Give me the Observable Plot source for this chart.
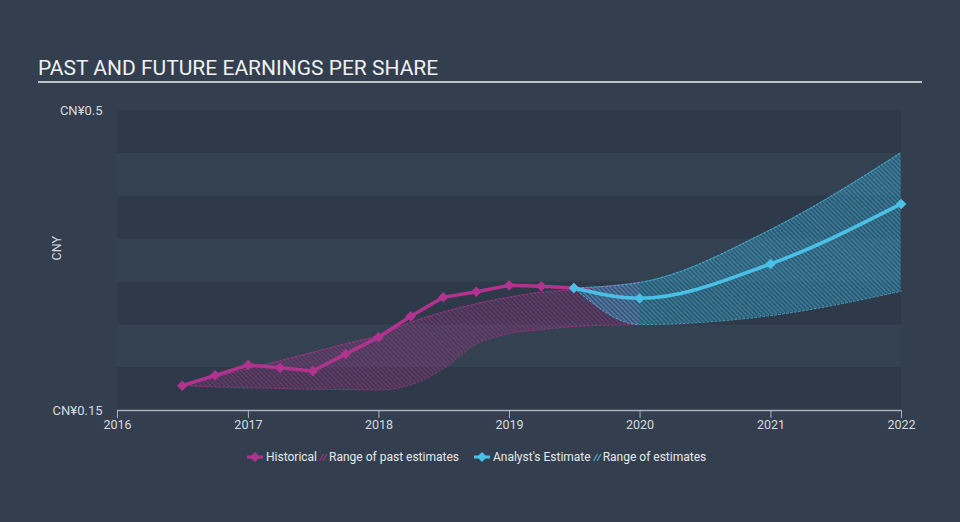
<!DOCTYPE html>
<html>
<head>
<meta charset="utf-8">
<script src="https://cdn.jsdelivr.net/npm/d3@7"></script>
<script src="https://cdn.jsdelivr.net/npm/@observablehq/plot@0.6"></script>
<style>
  html, body { margin: 0; padding: 0; }
  body { width: 960px; height: 522px; background: #333f4f; font-family: Roboto, "Noto Sans", sans-serif; position: relative; overflow: hidden; }
  #title { position: absolute; left: 38px; top: 57px; font-size: 21px; line-height: 22px; color: #eef0f2; white-space: nowrap; }
  #rule { position: absolute; left: 38px; top: 81px; width: 884px; height: 0; border-top: 2px solid #bfc3c8; }
  #chart { position: absolute; left: 0; top: 90px; }
  #legend { position: absolute; left: 246px; top: 449px; display: flex; align-items: center; font-size: 12px; color: #e6e8ea; white-space: nowrap; height: 16px; }
  #legend svg { display: block; }
  .item { display: flex; align-items: center; }
</style>
</head>
<body>
<div id="title">PAST AND FUTURE EARNINGS PER SHARE</div>
<div id="rule"></div>
<div id="chart"></div>
<div id="legend"></div>
<script>
// ---- data ----
const histDates = ["2016-06-30","2016-09-30","2016-12-31","2017-03-31","2017-06-30","2017-09-30","2017-12-31","2018-03-31","2018-06-30","2018-09-30","2018-12-31","2019-03-31","2019-06-30"];
const histEPS   = [0.179, 0.191, 0.203, 0.200, 0.196, 0.216, 0.2355, 0.260, 0.282, 0.2885, 0.296, 0.295, 0.293];

const pastRangeDates = ["2016-06-30","2016-09-30","2016-12-31","2017-03-31","2017-06-30","2017-09-30","2017-12-31","2018-03-31","2018-06-30","2018-09-30","2018-12-31","2019-03-31","2019-06-30","2019-12-31"];
const pastLow  = [0.179, 0.1775, 0.1765, 0.1757, 0.1749, 0.1745, 0.174, 0.180, 0.199, 0.2275, 0.2398, 0.2445, 0.248, 0.2503];
const pastHigh = [0.179, 0.189, 0.199, 0.208, 0.218, 0.228, 0.2375, 0.253, 0.2647, 0.2745, 0.2822, 0.288, 0.2908, 0.2995];

const estDates = ["2019-06-30","2019-12-31","2020-12-31","2021-12-31"];
const estEPS   = [0.293, 0.281, 0.321, 0.391];
const estLow   = [0.293, 0.2503, 0.2608, 0.2892];
const estHigh  = [0.293, 0.2993, 0.361, 0.451];

const yTicks = [0.15, 0.5];
const xTickYears = [2016, 2017, 2018, 2019, 2020, 2021, 2022];
const bandLows = [0.15, 0.20, 0.25, 0.30, 0.35, 0.40, 0.45];

// ---- tables ----
const parse = d3.utcParse("%Y-%m-%d");
const hist = histDates.map((d, i) => ({date: parse(d), v: histEPS[i]}));
const past = pastRangeDates.map((d, i) => ({date: parse(d), lo: pastLow[i], hi: pastHigh[i]}));
const est = estDates.map((d, i) => ({date: parse(d), v: estEPS[i], lo: estLow[i], hi: estHigh[i]}));
const xStart = new Date(Date.UTC(xTickYears[0], 0, 1));
const xEnd = new Date(Date.UTC(xTickYears[xTickYears.length - 1], 0, 1));
const bands = bandLows.map((b, i) => ({lo: b, hi: b + 0.05, dark: i % 2 === 0}));
const xTicks = xTickYears.map(y => new Date(Date.UTC(y, 0, 1)));

const PINK = "#b2338f";
const BLUE = "#4bc0e6";

const svg = Plot.plot({
  width: 960,
  height: 350,
  marginLeft: 117,
  marginRight: 59,
  marginTop: 20,
  marginBottom: 30,
  style: {background: "transparent", color: "#d6dade", fontFamily: "Roboto, sans-serif", fontSize: "12.5px"},
  x: {type: "utc", domain: [xStart, xEnd]},
  y: {domain: [0.15, 0.5]},
  marks: [
    Plot.rect(bands, {x1: () => xStart, x2: () => xEnd, y1: "lo", y2: "hi", fill: d => d.dark ? "#2e3a49" : "#344151"}),
    Plot.areaY(past, {x: "date", y1: "lo", y2: "hi", fill: "url(#hatchPink)", curve: "monotone-x"}),
    Plot.areaY(est, {x: "date", y1: "lo", y2: "hi", fill: "url(#hatchBlue)", curve: "monotone-x"}),
    Plot.line(past, {x: "date", y: "lo", stroke: PINK, strokeWidth: 1, strokeDasharray: "2,2", curve: "monotone-x", strokeOpacity: 0.85}),
    Plot.line(past, {x: "date", y: "hi", stroke: PINK, strokeWidth: 1, strokeDasharray: "2,2", curve: "monotone-x", strokeOpacity: 0.85}),
    Plot.line(est, {x: "date", y: "lo", stroke: BLUE, strokeWidth: 1, strokeDasharray: "2,2", curve: "monotone-x", strokeOpacity: 0.8}),
    Plot.line(est, {x: "date", y: "hi", stroke: BLUE, strokeWidth: 1, strokeDasharray: "2,2", curve: "monotone-x", strokeOpacity: 0.8}),
    Plot.ruleY([yTicks[0]], {stroke: "#a9b1bb", strokeWidth: 1.5}),
    Plot.axisX(xTicks, {tickSize: 8, tickPadding: 2, tickFormat: d3.utcFormat("%Y"), stroke: "#a9b1bb", fill: "#d6dade", fontSize: 12.5, label: null}),
    Plot.axisY(yTicks, {tickSize: 0, tickPadding: 15, tickFormat: d => "CN¥" + d, fill: "#d6dade", fontSize: 13, label: null}),
    Plot.text(["CNY"], {frameAnchor: "left", dx: -61, rotate: -90, fill: "#d6dade", fontSize: 12.5}),
    Plot.line(hist, {x: "date", y: "v", stroke: PINK, strokeWidth: 3.5}),
    Plot.dot(hist, {x: "date", y: "v", symbol: "square", r: 4.2, rotate: 45, fill: PINK}),
    Plot.line(est, {x: "date", y: "v", stroke: BLUE, strokeWidth: 3.5, curve: "monotone-x"}),
    Plot.dot(est, {x: "date", y: "v", symbol: "square", r: 4.2, rotate: 45, fill: BLUE})
  ]
});

// hatch patterns
const defs = d3.select(svg).insert("defs", ":first-child");
function hatch(id, bgColor, bgOpacity, lineColor, lineOpacity) {
  const p = defs.append("pattern")
    .attr("id", id)
    .attr("patternUnits", "userSpaceOnUse")
    .attr("width", 3.2).attr("height", 3.2)
    .attr("patternTransform", "rotate(-45)");
  p.append("rect").attr("width", 3.2).attr("height", 3.2).attr("fill", bgColor).attr("fill-opacity", bgOpacity);
  p.append("line").attr("x1", 0.8).attr("y1", 0).attr("x2", 0.8).attr("y2", 3.2)
    .attr("stroke", lineColor).attr("stroke-width", 1.1).attr("stroke-opacity", lineOpacity);
}
hatch("hatchPink", PINK, 0.12, PINK, 0.5);
hatch("hatchBlue", "#2a8fb8", 0.35, BLUE, 0.45);

document.getElementById("chart").appendChild(svg);

// legend
const legend = d3.select("#legend");
function lineIcon(color) {
  const s = legend.append("div").attr("class", "item").append("svg").attr("width", 18).attr("height", 12);
  s.append("line").attr("x1", 1).attr("x2", 17).attr("y1", 6).attr("y2", 6).attr("stroke", color).attr("stroke-width", 3);
  s.append("rect").attr("x", -3.5).attr("y", -3.5).attr("width", 7).attr("height", 7)
    .attr("transform", "translate(9,6) rotate(45)").attr("fill", color);
}
function hatchIcon(color) {
  const s = legend.append("div").attr("class", "item").append("svg").attr("width", 10).attr("height", 12);
  [0, 3.5].forEach(o => s.append("line").attr("x1", 1.5 + o).attr("y1", 10).attr("x2", 5.5 + o).attr("y2", 3)
    .attr("stroke", color).attr("stroke-width", 1.3).attr("stroke-opacity", 0.8));
}
function label(text, ml, mr) {
  legend.append("div").attr("class", "item").style("margin-left", ml + "px").style("margin-right", mr + "px").text(text);
}
lineIcon(PINK); label("Historical", 2, 1);
hatchIcon(PINK); label("Range of past estimates", 1, 14);
lineIcon(BLUE); label("Analyst's Estimate", 2, 1);
hatchIcon(BLUE); label("Range of estimates", 1, 0);
</script>
</body>
</html>
